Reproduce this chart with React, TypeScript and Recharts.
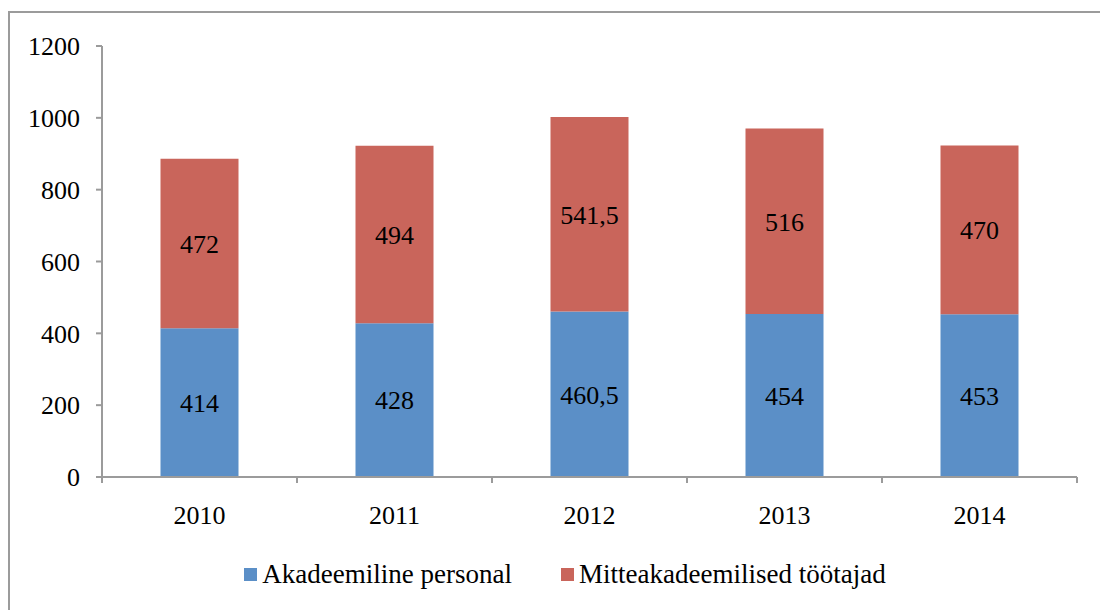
import { Bar, BarChart, LabelList, Legend, XAxis, YAxis } from 'recharts'

const years = ['2010', '2011', '2012', '2013', '2014']
const academic = [414, 428, 460.5, 454, 453]
const nonAcademic = [472, 494, 541.5, 516, 470]
const yTicks = [0, 200, 400, 600, 800, 1000, 1200]

const seriesNames = ['Akadeemiline personal', 'Mitteakadeemilised töötajad']
const colors = ['#5b8fc7', '#c9655b']

const data = years.map((year, i) => ({
  year,
  academic: academic[i],
  nonAcademic: nonAcademic[i],
}))

const font = '"Liberation Serif", "Times New Roman", serif'
const axisColor = '#9b9b9b'
const halfBand = 97.5

const fmt = (v: any) => String(v).replace('.', ',')

const XTick = (props: any) => {
  const { x, y, payload, index } = props
  return (
    <g>
      <line x1={x - halfBand} y1={y} x2={x - halfBand} y2={y + 6} stroke={axisColor} strokeWidth={2} />
      {index === years.length - 1 && (
        <line x1={x + halfBand} y1={y} x2={x + halfBand} y2={y + 6} stroke={axisColor} strokeWidth={2} />
      )}
      <text x={x} y={y + 47} textAnchor="middle" fill="#000" fontSize={26} fontFamily={font}>
        {payload.value}
      </text>
    </g>
  )
}

const LegendBox = () => (
  <div style={{ display: 'flex', justifyContent: 'center', gap: 49, fontFamily: font, fontSize: 27, color: '#000' }}>
    {seriesNames.map((name, i) => (
      <div key={name} style={{ display: 'flex', alignItems: 'center' }}>
        <span style={{ width: 13, height: 13, background: colors[i], marginRight: 5, display: 'inline-block' }} />
        <span>{name}</span>
      </div>
    ))}
  </div>
)

const App = (): JSX.Element => {
  return (
    <div
      style={{
        position: 'fixed',
        left: 8,
        top: 11,
        width: 1090,
        height: 597,
        borderLeft: '2px solid #9b9b9b',
        borderTop: '2px solid #9b9b9b',
        background: '#fff',
        overflow: 'hidden',
      }}
    >
      <BarChart
        width={1090}
        height={585}
        data={data}
        barCategoryGap="30%"
        margin={{ top: 33, right: 23, left: 12, bottom: 61 }}
      >
        <XAxis
          dataKey="year"
          height={60}
          axisLine={{ stroke: axisColor, strokeWidth: 2 }}
          tickLine={false}
          tickSize={0}
          tickMargin={0}
          tick={<XTick />}
          interval={0}
        />
        <YAxis
          width={80}
          domain={[0, 1200]}
          ticks={yTicks}
          axisLine={{ stroke: axisColor, strokeWidth: 2 }}
          tickLine={{ stroke: axisColor, strokeWidth: 2 }}
          tickSize={6}
          tickMargin={16}
          tick={{ fill: '#000', fontSize: 26, fontFamily: font }}
        />
        <Legend
          verticalAlign="middle"
          wrapperStyle={{ top: 546, left: 10, width: 1090, height: 30 }}
          content={<LegendBox />}
        />
        <Bar dataKey="academic" name={seriesNames[0]} stackId="a" fill={colors[0]} isAnimationActive={false}>
          <LabelList dataKey="academic" position="center" formatter={fmt} fill="#000" fontSize={26} fontFamily={font} />
        </Bar>
        <Bar dataKey="nonAcademic" name={seriesNames[1]} stackId="a" fill={colors[1]} isAnimationActive={false}>
          <LabelList dataKey="nonAcademic" position="center" formatter={fmt} fill="#000" fontSize={26} fontFamily={font} />
        </Bar>
      </BarChart>
    </div>
  )
}

export default App
